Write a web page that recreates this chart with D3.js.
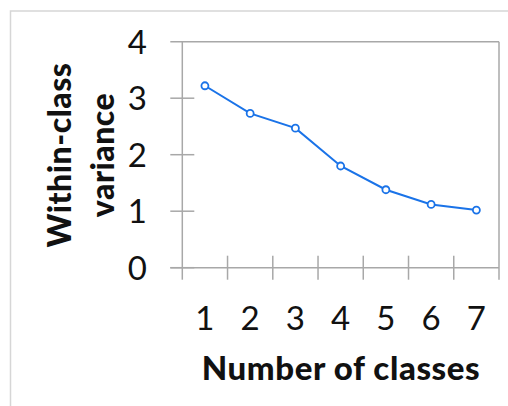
<!DOCTYPE html>
<html><head><meta charset="utf-8">
<script src="https://cdn.jsdelivr.net/npm/d3@7"></script>
<style>html,body{margin:0;padding:0;background:#fff;}svg{display:block;}</style>
</head><body>
<script>
const categories = ["1","2","3","4","5","6","7"];
const variance = [3.22, 2.73, 2.47, 1.80, 1.38, 1.12, 1.02];
const yTicks = [0,1,2,3,4];
const xTitle = "Number of classes";
const yTitleLines = ["Within-class","variance"];

const W=508,H=406;
const svg=d3.select("body").append("svg").attr("width",W).attr("height",H);
const font="Lato, 'Open Sans', sans-serif";
const axisColor="#a8a8a8";
const blue="#1a73e8";

// outer frame
svg.append("path").attr("d",`M10.5,${H} V11 H${W}`).attr("fill","none").attr("stroke","#d6d6d6").attr("stroke-width",1.5);

const x=d3.scaleBand().domain(categories).range([182.3,499]);
const y=d3.scaleLinear().domain([0,4]).range([267.7,41.7]);
const L=x.range()[0], R=x.range()[1];

const g=svg.append("g");
g.selectAll(".yt").data(yTicks).join("line")
 .attr("x1",L-12).attr("x2",d=>d===4?R:L+12)
 .attr("y1",d=>y(d)).attr("y2",d=>y(d))
 .attr("stroke",axisColor).attr("stroke-width",1.5);
g.append("line").attr("x1",L-12).attr("x2",R).attr("y1",y(0)).attr("y2",y(0)).attr("stroke",axisColor).attr("stroke-width",1.5);
g.append("line").attr("x1",L).attr("x2",L).attr("y1",y(4)).attr("y2",y(0)+12).attr("stroke",axisColor).attr("stroke-width",1.5);
g.append("line").attr("x1",R).attr("x2",R).attr("y1",y(4)).attr("y2",y(0)+12).attr("stroke",axisColor).attr("stroke-width",1.5);
const bounds=categories.slice(1).map(c=>x(c));
g.selectAll(".xt").data(bounds).join("line")
 .attr("x1",d=>d).attr("x2",d=>d).attr("y1",y(0)-12).attr("y2",y(0)+12)
 .attr("stroke",axisColor).attr("stroke-width",1.5);

g.selectAll(".yl").data(yTicks).join("text")
 .attr("x",147).attr("y",d=>y(d)).attr("dy","0.36em")
 .attr("text-anchor","end").attr("font-family",font).attr("font-size",33).attr("fill","#111")
 .text(d=>d);
g.selectAll(".xl").data(categories).join("text")
 .attr("x",d=>x(d)+x.bandwidth()/2).attr("y",330)
 .attr("text-anchor","middle").attr("font-family",font).attr("font-size",33).attr("fill","#111")
 .text(d=>d);

const line=d3.line().x((d,i)=>x(categories[i])+x.bandwidth()/2).y(d=>y(d));
g.append("path").datum(variance).attr("d",line).attr("fill","none").attr("stroke",blue).attr("stroke-width",2);
g.selectAll(".pt").data(variance).join("circle")
 .attr("cx",(d,i)=>x(categories[i])+x.bandwidth()/2).attr("cy",d=>y(d)).attr("r",3.5)
 .attr("fill","#fff").attr("stroke",blue).attr("stroke-width",1.8);

svg.append("text").attr("x",341).attr("y",380).attr("text-anchor","middle")
 .attr("font-family",font).attr("font-weight",900).attr("font-size",33).attr("letter-spacing",0.6).attr("fill","#111").text(xTitle);
const yt=svg.append("text").attr("transform","translate(0,155) rotate(-90)")
 .attr("text-anchor","middle").attr("font-family",font).attr("font-weight",900).attr("font-size",32).attr("letter-spacing",0.5).attr("fill","#111");
yt.selectAll("tspan").data(yTitleLines).join("tspan").attr("x",0).attr("y",(d,i)=>i===0?71:114).text(d=>d);
</script>
</body></html>
